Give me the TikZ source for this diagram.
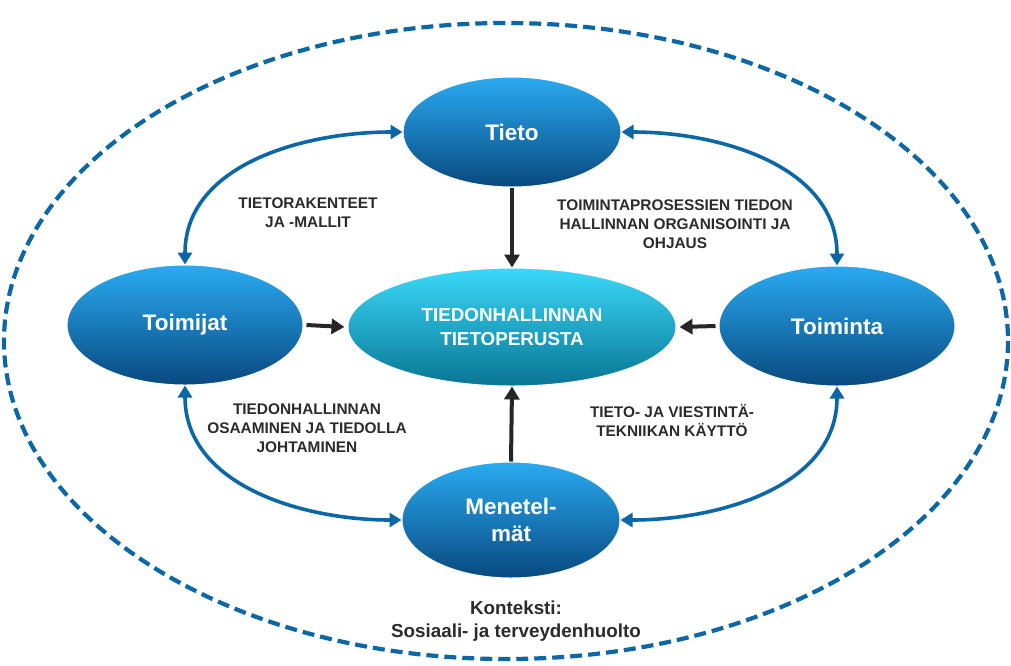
\documentclass[tikz,border=0pt]{standalone}
\usepackage{fontspec}
\setmainfont{Liberation Sans}
\usetikzlibrary{shapes.geometric,arrows.meta}
\definecolor{linkblue}{HTML}{0B67A6}
\definecolor{darkline}{HTML}{262626}
\definecolor{balltop}{HTML}{2AAAF2}
\definecolor{ballbot}{HTML}{08497F}
\definecolor{coretop}{HTML}{3BD9FA}
\definecolor{corebot}{HTML}{087593}
\definecolor{labelgray}{HTML}{2B2B2B}
\tikzset{
  ball/.style={ellipse, inner sep=0pt, draw=white, line width=1pt,
    top color=balltop, bottom color=ballbot, text=white,
    font=\fontsize{22.5}{27}\selectfont\bfseries, align=center},
  core/.style={ellipse, inner sep=0pt, draw=white, line width=1pt,
    top color=coretop, bottom color=corebot, text=white,
    font=\fontsize{18.8}{24}\selectfont\bfseries, align=center},
  flow/.style={draw=darkline, line width=4pt,
    -{Triangle[length=13pt,width=15pt]}},
  link/.style={draw=linkblue, line width=3.6pt,
    {Triangle[length=12pt,width=14pt]}-{Triangle[length=12pt,width=14pt]}},
  caption/.style={text=labelgray, font=\fontsize{15.4}{19}\selectfont\bfseries, align=center},
  context/.style={text=labelgray, font=\fontsize{18.8}{22.5}\selectfont\bfseries, align=center},
  frame/.style={draw=linkblue, line width=4.2pt, dash pattern=on 12pt off 6pt}
}
\begin{document}
\begin{tikzpicture}[x=1pt,y=-1pt]
  \useasboundingbox (0,0) rectangle (1011,665);

  % context boundary
  \draw[frame] (506,341) ellipse [x radius=502, y radius=318];

  % main elements
  \node[ball, minimum width=218pt, minimum height=110pt] (tieto) at (512,132) {Tieto};
  \node[ball, minimum width=236pt, minimum height=120pt] (toimijat) at (185,325) {Toimijat};
  \node[ball, minimum width=236pt, minimum height=120pt] (toiminta) at (837,326) {Toiminta};
  \node[ball, minimum width=218pt, minimum height=116pt] (menetelmat) at (511,520) {Menetel-\\mät};
  \node[core, minimum width=328pt, minimum height=118pt] (core) at (512,327) {TIEDONHALLINNAN\\TIETOPERUSTA};

  % flows into the knowledge base
  \draw[flow] (tieto.south) -- (core.north);
  \draw[flow] (menetelmat.north) -- (core.south);
  \draw[flow] ([xshift=3pt]toimijat.east) -- ([xshift=-3pt]core.west);
  \draw[flow] ([xshift=-3pt]toiminta.west) -- ([xshift=3pt]core.east);

  % relations between the elements
  \draw[link] (tieto.west) to[out=180, in=90] (toimijat.north);
  \draw[link] (tieto.east) to[out=0, in=90] (toiminta.north);
  \draw[link] (toimijat.south) to[out=-90, in=180] (menetelmat.west);
  \draw[link] (toiminta.south) to[out=-90, in=0] (menetelmat.east);

  % relation captions
  \node[caption] (capA) at (308,213) {TIETORAKENTEET\\JA -MALLIT};
  \node[caption] (capB) at (675,224) {TOIMINTAPROSESSIEN TIEDON\\HALLINNAN ORGANISOINTI JA\\OHJAUS};
  \node[caption] (capC) at (307,428) {TIEDONHALLINNAN\\OSAAMINEN JA TIEDOLLA\\JOHTAMINEN};
  \node[caption] (capD) at (672,420) {TIETO- JA VIESTINTÄ-\\TEKNIIKAN KÄYTTÖ};

  \node[context] (ctx) at (516,621) {Konteksti:\\Sosiaali- ja terveydenhuolto};
\end{tikzpicture}
\end{document}
